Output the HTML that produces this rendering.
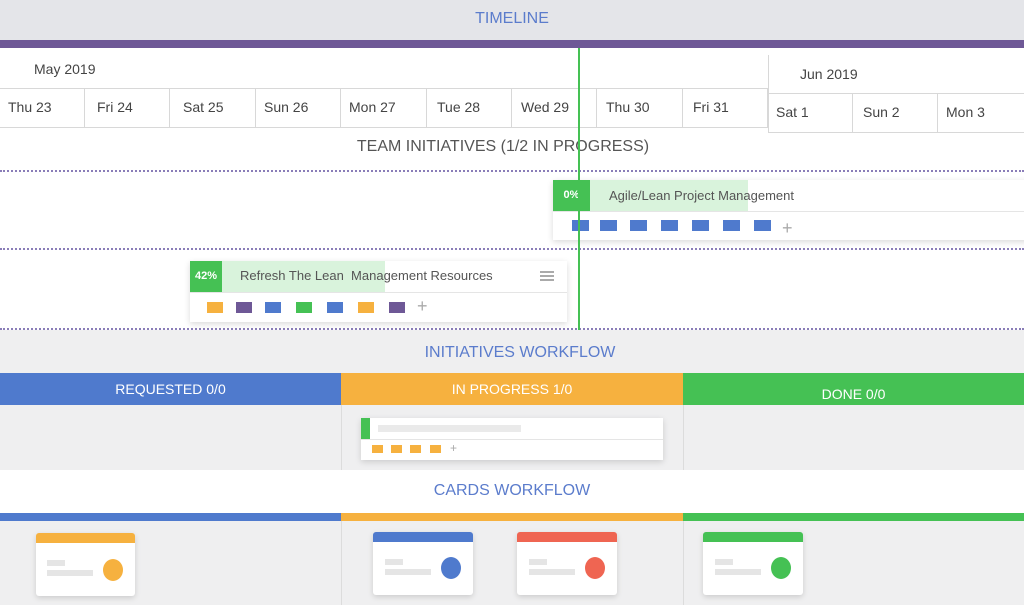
<!DOCTYPE html>
<html><head><style>
*{margin:0;padding:0;box-sizing:border-box}
body{width:1024px;height:605px;overflow:hidden;background:#efeff0;font-family:"Liberation Sans",sans-serif;position:relative}
div{position:absolute}
.t{white-space:nowrap}
.day{top:88px;height:40px;border-right:1px solid #d8d8d8;font-size:14px;color:#444;padding:11px 0 0 8px}
.dot{left:0;width:1024px;height:0;border-top:2px dotted #8a7db8}
.sq{width:17px;height:11px}
.card{background:#fff;box-shadow:0 2px 6px rgba(0,0,0,.15)}
</style></head><body>
<div style="left:0;top:0;width:1024px;height:40px;background:#e4e5e9"></div>
<div class="t" style="left:0;width:1024px;top:10px;text-align:center;color:#5b7ccc;font-size:16px">TIMELINE</div>
<div style="left:0;top:40px;width:1024px;height:8px;background:#6e5896"></div>
<div style="left:0;top:48px;width:1024px;height:282px;background:#fff"></div>
<div class="t" style="left:34px;top:61px;font-size:14px;color:#444">May 2019</div>
<div class="t" style="left:800px;top:66px;font-size:14px;color:#444">Jun 2019</div>
<div style="left:768px;top:55px;width:1px;height:78px;background:#d8d8d8"></div>
<div style="left:0;top:88px;width:768px;height:1px;background:#d8d8d8"></div>
<div style="left:0;top:127px;width:768px;height:1px;background:#d8d8d8"></div>
<div style="left:768px;top:93px;width:256px;height:1px;background:#d8d8d8"></div>
<div style="left:768px;top:132px;width:256px;height:1px;background:#d8d8d8"></div>
<div class="day" style="left:0;width:85px">Thu 23</div>
<div class="day" style="left:85px;width:85px;padding-left:12px">Fri 24</div>
<div class="day" style="left:170px;width:86px;padding-left:13px">Sat 25</div>
<div class="day" style="left:256px;width:85px">Sun 26</div>
<div class="day" style="left:341px;width:86px">Mon 27</div>
<div class="day" style="left:427px;width:85px;padding-left:10px">Tue 28</div>
<div class="day" style="left:512px;width:85px;padding-left:9px">Wed 29</div>
<div class="day" style="left:597px;width:86px;padding-left:9px">Thu 30</div>
<div class="day" style="left:683px;width:85px;padding-left:10px">Fri 31</div>
<div class="day" style="left:768px;top:93px;width:85px">Sat 1</div>
<div class="day" style="left:853px;top:93px;width:85px;padding-left:10px">Sun 2</div>
<div class="day" style="left:938px;top:93px;width:86px;border:0">Mon 3</div>
<div class="t" style="left:0;width:1006px;top:138px;text-align:center;font-size:16px;color:#555">TEAM INITIATIVES (1/2 IN PROGRESS)</div>
<div class="dot" style="top:170px"></div>
<div class="dot" style="top:248px"></div>
<div class="dot" style="top:328px"></div>
<!-- card1 -->
<div class="card" style="left:553px;top:180px;width:480px;height:60px"></div>
<div style="left:590px;top:180px;width:158px;height:31px;background:#d9f3dc"></div>
<div style="left:553px;top:180px;width:37px;height:31px;background:#45c154;color:#fff;font-size:11px;font-weight:bold;text-align:center;line-height:31px">0%</div>
<div style="left:553px;top:211px;width:471px;height:1px;background:#e5e5e5"></div>
<div class="t" style="left:609px;top:188px;font-size:13px;color:#555">Agile/Lean Project Management</div>
<div class="sq" style="left:572px;top:220px;background:#4f7acd"></div>
<div class="sq" style="left:600px;top:220px;background:#4f7acd"></div>
<div class="sq" style="left:630px;top:220px;background:#4f7acd"></div>
<div class="sq" style="left:661px;top:220px;background:#4f7acd"></div>
<div class="sq" style="left:692px;top:220px;background:#4f7acd"></div>
<div class="sq" style="left:723px;top:220px;background:#4f7acd"></div>
<div class="sq" style="left:754px;top:220px;background:#4f7acd"></div>
<div class="t" style="left:782px;top:218px;font-size:18px;color:#aaa">+</div>
<!-- card2 -->
<div class="card" style="left:190px;top:261px;width:377px;height:61px"></div>
<div style="left:222px;top:261px;width:163px;height:31px;background:#d9f3dc"></div>
<div style="left:190px;top:261px;width:32px;height:31px;background:#45c154;color:#fff;font-size:11px;font-weight:bold;text-align:center;line-height:31px">42%</div>
<div style="left:190px;top:292px;width:377px;height:1px;background:#e5e5e5"></div>
<div class="t" style="left:240px;top:268px;font-size:13px;color:#555">Refresh The Lean&nbsp; Management Resources</div>
<div style="left:540px;top:271px;width:14px;height:2px;background:#aaa;box-shadow:0 4px 0 #aaa,0 8px 0 #aaa"></div>
<div class="sq" style="left:207px;top:302px;width:16px;background:#f6b13f"></div>
<div class="sq" style="left:236px;top:302px;width:16px;background:#6e5896"></div>
<div class="sq" style="left:265px;top:302px;width:16px;background:#4f7acd"></div>
<div class="sq" style="left:296px;top:302px;width:16px;background:#45c154"></div>
<div class="sq" style="left:327px;top:302px;width:16px;background:#4f7acd"></div>
<div class="sq" style="left:358px;top:302px;width:16px;background:#f6b13f"></div>
<div class="sq" style="left:389px;top:302px;width:16px;background:#6e5896"></div>
<div class="t" style="left:417px;top:296px;font-size:18px;color:#aaa">+</div>
<div style="left:578px;top:48px;width:2px;height:282px;background:#45c154"></div>
<!-- initiatives workflow -->
<div class="t" style="left:0;width:1040px;top:344px;text-align:center;font-size:16px;color:#5b7ccc">INITIATIVES WORKFLOW</div>
<div style="left:0;top:373px;width:341px;height:32px;background:#4f7acd;color:#fff;font-size:14px;text-align:center;line-height:32px">REQUESTED 0/0</div>
<div style="left:341px;top:373px;width:342px;height:32px;background:#f6b13f;color:#fff;font-size:14px;text-align:center;line-height:32px">IN PROGRESS 1/0</div>
<div style="left:683px;top:373px;width:341px;height:32px;background:#45c154;color:#fff;font-size:14px;text-align:center;line-height:42px">DONE 0/0</div>
<div style="left:341px;top:405px;width:1px;height:65px;background:#dcdcdc"></div>
<div style="left:683px;top:405px;width:1px;height:65px;background:#dcdcdc"></div>
<div class="card" style="left:361px;top:418px;width:302px;height:42px"></div>
<div style="left:361px;top:418px;width:9px;height:21px;background:#45c154"></div>
<div style="left:361px;top:439px;width:302px;height:1px;background:#e5e5e5"></div>
<div style="left:378px;top:425px;width:143px;height:7px;background:#eaeaea"></div>
<div style="left:372px;top:445px;width:11px;height:8px;background:#f6b13f;box-shadow:19px 0 0 #f6b13f,38px 0 0 #f6b13f,58px 0 0 #f6b13f"></div>
<div class="t" style="left:450px;top:441px;font-size:12px;color:#aaa">+</div>
<!-- cards workflow -->
<div style="left:0;top:470px;width:1024px;height:43px;background:#fff"></div>
<div class="t" style="left:0;width:1024px;top:482px;text-align:center;font-size:16px;color:#5b7ccc">CARDS WORKFLOW</div>
<div style="left:0;top:513px;width:341px;height:8px;background:#4f7acd"></div>
<div style="left:341px;top:513px;width:342px;height:8px;background:#f6b13f"></div>
<div style="left:683px;top:513px;width:341px;height:8px;background:#45c154"></div>
<div style="left:341px;top:521px;width:1px;height:84px;background:#dcdcdc"></div>
<div style="left:683px;top:521px;width:1px;height:84px;background:#dcdcdc"></div>

<div class="card" style="left:36px;top:533px;width:99px;height:63px;border-top:10px solid #f6b13f;border-radius:3px"></div>
<div style="left:47px;top:560px;width:18px;height:6px;background:#e5e5e5;box-shadow:0 10px 0 #e5e5e5"></div><div style="left:47px;top:570px;width:46px;height:6px;background:#e5e5e5"></div>
<div style="left:103px;top:559px;width:20px;height:22px;border-radius:50%;background:#f6b13f"></div>

<div class="card" style="left:373px;top:532px;width:100px;height:63px;border-top:10px solid #4f7acd;border-radius:3px"></div>
<div style="left:385px;top:559px;width:18px;height:6px;background:#e5e5e5"></div><div style="left:385px;top:569px;width:46px;height:6px;background:#e5e5e5"></div>
<div style="left:441px;top:557px;width:20px;height:22px;border-radius:50%;background:#4f7acd"></div>

<div class="card" style="left:517px;top:532px;width:100px;height:63px;border-top:10px solid #ef6552;border-radius:3px"></div>
<div style="left:529px;top:559px;width:18px;height:6px;background:#e5e5e5"></div><div style="left:529px;top:569px;width:46px;height:6px;background:#e5e5e5"></div>
<div style="left:585px;top:557px;width:20px;height:22px;border-radius:50%;background:#ef6552"></div>

<div class="card" style="left:703px;top:532px;width:100px;height:63px;border-top:10px solid #45c154;border-radius:3px"></div>
<div style="left:715px;top:559px;width:18px;height:6px;background:#e5e5e5"></div><div style="left:715px;top:569px;width:46px;height:6px;background:#e5e5e5"></div>
<div style="left:771px;top:557px;width:20px;height:22px;border-radius:50%;background:#45c154"></div>
</body></html>
